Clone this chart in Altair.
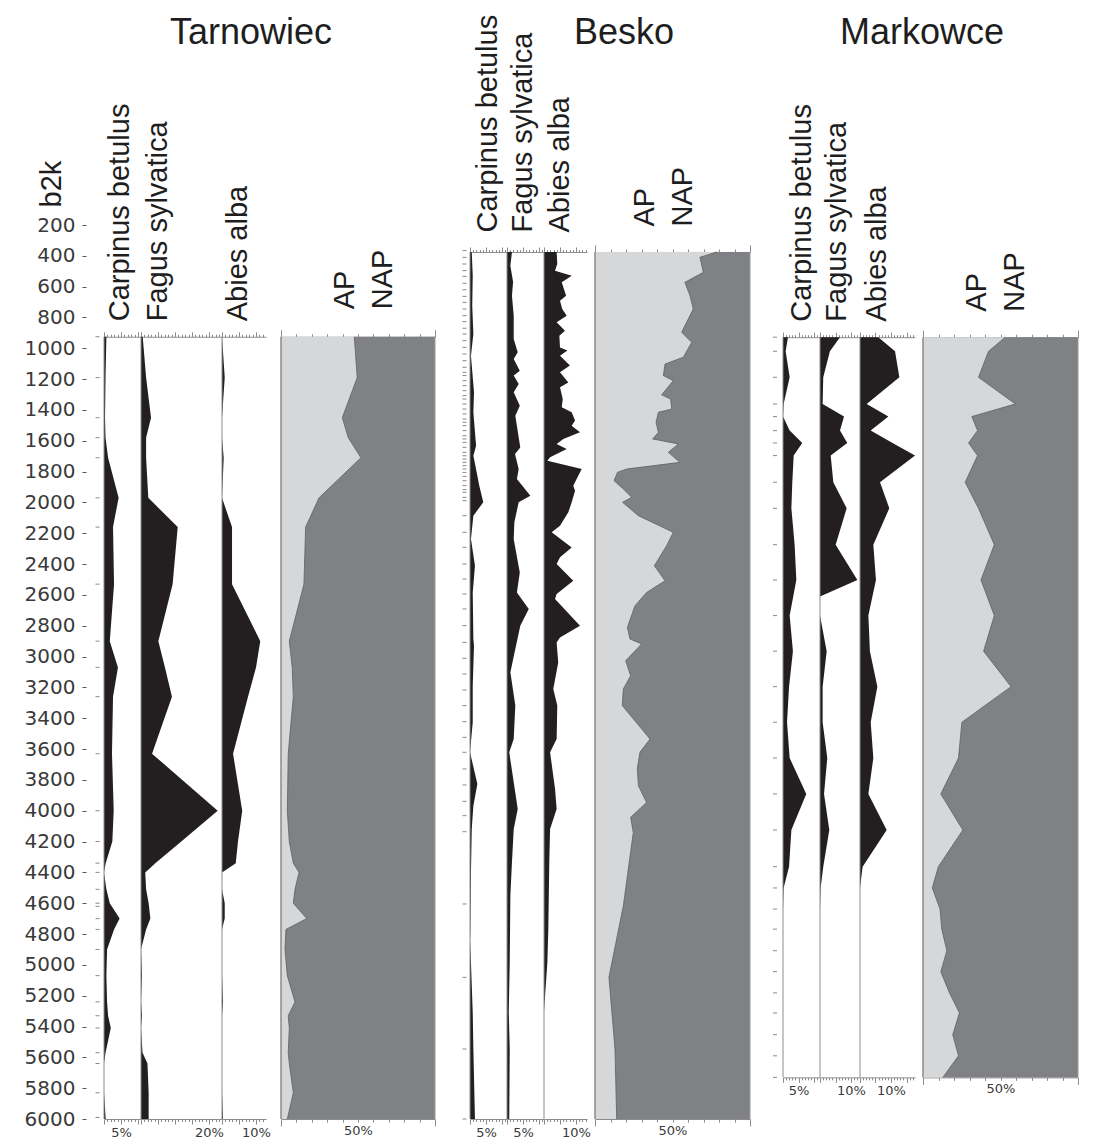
import altair as alt
import pandas as pd

# ---------------- data ----------------
# Tarnowiec
T_depth = [925, 1190, 1450, 1580, 1710, 1970, 2160, 2530, 2900, 3070, 3260, 3630, 4000, 4200, 4340,
           4400, 4510, 4600, 4700, 4770, 4900, 5070, 5240, 5330, 5410, 5570, 5640, 5830, 6000]
T_carpinus = [0.7, 0.45, 0.3, 0.45, 1.2, 4.3, 2.65, 2.95, 1.7, 4.1, 2.65, 2.35, 2.85, 2.45, 0.5,
              0.0, 0.7, 1.7, 4.6, 2.95, 0.9, 0.7, 0.9, 1.2, 2.0, 0.45, 0.0, 0.0, 0.5]
T_fagus = [0.5, 1.5, 2.95, 1.5, 1.5, 2.15, 10.8, 9.3, 5.1, 7.05, 9.1, 3.25, 22.55, 11.85, 4.2,
           1.25, 1.5, 2.25, 2.75, 1.5, 0.0, 0.3, 0.0, 0.3, 0.0, 0.45, 1.9, 2.25, 2.25]
T_abies = [0.0, 0.8, 0.0, 0.0, 0.5, 0.0, 2.95, 2.95, 11.25, 10.0, 7.65, 3.25, 5.95, 4.7, 4.05,
           0.0, 0.0, 0.8, 0.8, 0.0, 0.0, 0.0, 0.3, 0.0, 0.0, 0.0, 0.0, 0.0, 0.3]
T_ap = [47.6, 49.5, 39.8, 43.7, 51.9, 24.7, 16.0, 14.9, 5.4, 7.3, 8.0, 4.7, 4.1, 5.4, 8.0,
        11.7, 9.1, 8.0, 16.7, 3.2, 2.6, 4.1, 9.1, 4.7, 5.4, 4.7, 5.4, 8.0, 4.1]
T_samples = [925, 1190, 1450, 1580, 1710, 1970, 2160, 2530, 2900, 3070, 3260, 3630, 4000, 4200, 4340,
             4400, 4510, 4600, 4620, 4700, 4770, 4900, 5070, 5240, 5330, 5410, 5570, 5640, 5830, 5990]

# Besko
B_carp_depth = [375, 529, 724, 907, 1048, 1285, 1415, 1632, 1697, 1805, 1891, 1999, 2086, 2237, 2411,
                2584, 2886, 2929, 3189, 3427, 3621, 3826, 3967, 4119, 4400, 4800, 4833, 4984, 5306, 5546, 6000]
B_carpinus = [0.55, 0.85, 0.7, 1.05, 0.3, 1.25, 1.05, 1.9, 1.05, 2.1, 2.9, 4.15, 1.05, 0.3, 1.55,
              0.85, 1.05, 1.25, 0.85, 0.85, 0.0, 2.3, 1.05, 0.55, 0.3, 0.1, 0.0, 0.3, 0.85, 1.05, 1.55]
B_fag_depth = [375, 464, 570, 659, 789, 940, 1026, 1069, 1145, 1177, 1232, 1285, 1372, 1437, 1643,
               1686, 1783, 1848, 1956, 1999, 2129, 2238, 2454, 2584, 2691, 2800, 3102, 3318, 3535, 3621,
               3989, 4119, 4335, 4551, 4984, 5306, 5546, 6000]
B_fagus = [1.55, 1.05, 1.9, 1.55, 2.1, 2.1, 3.35, 2.1, 4.0, 2.1, 3.65, 2.1, 4.0, 2.6, 4.15,
           2.5, 3.65, 3.1, 7.3, 3.65, 2.3, 2.1, 4.0, 3.1, 6.8, 4.15, 1.05, 2.6, 2.1, 0.7,
           3.35, 2.1, 1.55, 1.05, 0.85, 0.55, 0.85, 0.7]
B_abi_depth = [375, 453, 496, 529, 572, 659, 691, 745, 789, 831, 886, 918, 994, 1015, 1048,
               1112, 1156, 1221, 1253, 1329, 1383, 1415, 1469, 1502, 1545, 1588, 1620, 1653, 1707, 1729,
               1783, 1826, 1891, 1924, 1999, 2064, 2151, 2194, 2292, 2356, 2400, 2508, 2594, 2626, 2800,
               2876, 2908, 3038, 3210, 3318, 3535, 3621, 3859, 3989, 4119, 4335, 4768, 4984, 5300, 6000]
B_abies = [3.95, 4.15, 3.45, 8.65, 5.55, 6.9, 5.0, 5.7, 7.1, 3.95, 6.55, 4.8, 5.0, 7.3, 5.0,
           8.1, 5.0, 7.6, 5.0, 5.85, 5.55, 8.65, 9.7, 8.65, 11.25, 6.05, 3.95, 7.1, 1.9, 1.05,
           11.8, 10.7, 9.15, 9.7, 8.65, 7.6, 5.0, 2.4, 8.65, 5.0, 3.95, 9.15, 3.95, 3.45, 11.25,
           5.0, 3.95, 4.45, 2.9, 4.15, 3.95, 1.9, 3.45, 3.95, 1.9, 1.65, 1.35, 1.05, 0.0, 0.0]
B_ap_depth = [375, 410, 507, 572, 659, 745, 896, 961, 1058, 1102, 1177, 1210, 1302, 1329, 1394,
              1415, 1480, 1545, 1588, 1620, 1675, 1740, 1783, 1805, 1859, 1913, 1967, 1999, 2086, 2194,
              2281, 2411, 2508, 2584, 2670, 2811, 2886, 2918, 3027, 3124, 3210, 3318, 3535, 3621, 3729,
              3838, 3946, 4043, 4141, 4616, 5081, 5546, 6000]
B_ap = [78.5, 67.7, 69.9, 58.0, 61.3, 63.4, 55.9, 62.4, 57.0, 45.2, 44.1, 50.5, 43.0, 48.8, 49.5,
        40.9, 39.4, 40.9, 37.2, 53.8, 47.3, 54.8, 20.4, 14.5, 12.3, 18.3, 23.7, 17.8, 28.0, 50.5,
        46.2, 38.3, 45.2, 33.3, 25.8, 20.9, 22.6, 30.1, 19.8, 23.0, 18.3, 17.6, 35.5, 29.0, 27.3,
        28.0, 33.3, 23.0, 24.7, 18.3, 9.0, 12.9, 14.0]
B_samples = [366, 410, 453, 496, 533, 578, 620, 663, 702, 745, 788, 827, 870, 907, 950, 994, 1037,
             1080, 1123, 1156, 1177, 1210, 1242, 1275, 1307, 1329, 1361, 1394, 1426, 1459, 1480, 1502,
             1534, 1567, 1588, 1610, 1642, 1675, 1697, 1718, 1740, 1761, 1783, 1805, 1831, 1859, 1891,
             1917, 1934, 1967, 1988, 2086, 2194, 2291, 2399, 2497, 2594, 2691, 2799, 2908, 3011, 3113,
             3217, 3318, 3422, 3524, 3621, 3729, 3833, 3939, 4032, 4136, 4605, 5081, 5546, 6000]

# Markowce
M_depth = [928, 1019, 1188, 1361, 1443, 1534, 1614, 1696, 1869, 2038, 2274, 2503, 2610, 2734, 2965,
           3195, 3426, 3658, 3891, 4125, 4363, 4501, 4638, 4768, 4908, 5044, 5182, 5312, 5453, 5590, 5730]
M_carpinus = [1.6, 0.85, 2.15, 0.2, 0.0, 2.15, 6.2, 3.45, 3.0, 2.7, 3.75, 4.3, 3.3, 2.15, 3.2,
              1.95, 1.3, 2.15, 7.5, 2.7, 1.95, 0.2, 0, 0, 0, 0, 0, 0, 0, 0, 0]
M_fagus = [6.45, 3.2, 1.05, 0.85, 7.75, 6.45, 8.8, 3.45, 4.3, 8.6, 5.05, 12.05, 0.0, 0.0, 2.15,
           0.85, 0.85, 2.35, 1.3, 3.0, 1.05, 0.2, 0, 0, 0, 0, 0, 0, 0, 0, 0]
M_abies = [5.9, 11.3, 12.7, 2.15, 9.15, 3.45, 10.5, 17.75, 6.45, 9.45, 4.3, 5.15, 4.0, 2.7, 3.2,
           5.6, 3.45, 4.3, 2.7, 8.6, 0.85, 0, 0, 0, 0, 0, 0, 0, 0, 0, 0]
M_ap = [53.1, 42.3, 35.8, 59.6, 31.5, 35.2, 29.4, 35.2, 27.2, 35.8, 46.0, 37.4, 41.4, 46.0, 39.1,
        56.8, 25.1, 22.9, 11.5, 25.7, 9.9, 6.0, 11.0, 12.1, 15.4, 11.5, 17.1, 23.5, 19.2, 22.9, 12.8]
M_samples = [928, 1019, 1188, 1361, 1443, 1534, 1614, 1696, 1869, 2038, 2274, 2503, 2734, 2965,
             3195, 3426, 3658, 3891, 4125, 4363, 4501, 4638, 4768, 4908, 5044, 5182, 5312, 5453, 5590, 5730]

SITES = ["Tarnowiec", "Besko", "Markowce"]
TAXA = ["Carpinus betulus", "Fagus sylvatica", "Abies alba"]
Y_TICKS = list(range(200, 6001, 200))

# ---------------- styling ----------------
H = 894
Y0, Y1 = 200, 6000
PXU = H / (Y1 - Y0)
yscale = alt.Scale(domain=[Y0, Y1], reverse=True, nice=False, zero=False)

BLACK = "#231f20"
LIGHT = "#d6d7d9"
DARK = "#808184"
EDGE = "#8c8c8c"
TXT = "#1e1e1e"
NUM = "#3a3a3a"
SANS = "Liberation Sans"
NUMFONT = "DejaVu Sans"


def ydef():
    return alt.Y("depth:Q", scale=yscale, axis=None)


def tsize(test, big, small):
    return {"condition": {"test": test, "value": big}, "value": small}


def taxon_panel(depth, vals, label, width, xmax, lab_val, top, bottom, tx, ty):
    df = pd.DataFrame({"depth": depth, "pct": vals})
    xs = alt.Scale(domain=[0, xmax], nice=False, zero=True)
    tv = list(range(0, int(xmax) + 1))
    ts = tsize("datum.value % 5 === 0", 5, 2.5)
    top_axis = alt.Axis(orient="top", offset=-(top - Y0) * PXU, values=tv, labels=False,
                        tickSize=ts, tickColor=EDGE, domainColor=EDGE, grid=False,
                        title=label, titleAngle=270, titleAlign="left", titleBaseline="alphabetic",
                        titleX=tx, titleY=ty, titleFont=SANS, titleFontSize=29,
                        titleFontWeight="normal", titleColor=TXT)
    bot_axis = alt.Axis(orient="bottom", offset=-(Y1 - bottom) * PXU, values=tv,
                        tickSize=ts, tickColor=EDGE, domainColor=EDGE, grid=False,
                        labelExpr=f"datum.value === {lab_val} ? '{lab_val}%' : ''",
                        labelFont=NUMFONT, labelFontSize=13, labelColor=NUM, labelPadding=2,
                        labelOverlap=False, labelFlush=False, title=None)
    area = alt.Chart(df).mark_area(orient="horizontal", color=BLACK).encode(
        y=ydef(), x=alt.X("pct:Q", scale=xs, axis=top_axis, stack=None))
    base = alt.Chart(df).mark_rule(color=EDGE, strokeWidth=1).encode(
        x=alt.XDatum(0, type="quantitative", scale=xs, axis=bot_axis),
        y=alt.Y("min(depth):Q", scale=yscale, axis=None),
        y2=alt.Y2("max(depth):Q"))
    return alt.layer(area, base).resolve_axis(x="independent").properties(width=width, height=H)


def ap_panel(depth, ap, width, top, bottom, tx, ty, title=None):
    df = pd.DataFrame({"depth": depth, "AP": ap})
    xs = alt.Scale(domain=[0, 100], nice=False)
    tv = list(range(0, 101, 10))
    ts = tsize("datum.value === 0 || datum.value === 100", 7, 3)
    top_axis = alt.Axis(orient="top", offset=-(top - Y0) * PXU, values=tv, labels=False,
                        tickSize=ts, tickColor=EDGE, domainColor=EDGE, grid=False,
                        title=["AP", "NAP"], titleAngle=270, titleAlign="left", titleBaseline="top",
                        titleLineHeight=38, titleX=tx, titleY=ty, titleFont=SANS, titleFontSize=29,
                        titleFontWeight="normal", titleColor=TXT)
    bot_axis = alt.Axis(orient="bottom", offset=-(Y1 - bottom) * PXU, values=tv,
                        tickSize=ts, tickColor=EDGE, domainColor=EDGE, grid=False,
                        labelExpr="datum.value === 50 ? '50%' : ''",
                        labelFont=NUMFONT, labelFontSize=13, labelColor=NUM, labelPadding=2,
                        labelOverlap=False, labelFlush=False, title=None)
    ap_area = alt.Chart(df).mark_area(orient="horizontal", color=LIGHT).encode(
        y=ydef(), x=alt.X("AP:Q", scale=xs, axis=top_axis, stack=None))
    nap_area = alt.Chart(df).transform_calculate(full="100").mark_area(
        orient="horizontal", color=DARK).encode(
        y=ydef(), x=alt.X("AP:Q", scale=xs, axis=None, stack=None), x2="full:Q")
    edge = alt.Chart(df).mark_line(color="#5c5c5f", strokeWidth=0.8).encode(
        y=ydef(), x=alt.X("AP:Q", scale=xs, axis=None), order=alt.Order("depth:Q"))
    left = alt.Chart(df).mark_rule(color="#8a8a8a", strokeWidth=1.5).encode(
        x=alt.XDatum(0, type="quantitative", scale=xs, axis=bot_axis),
        y=alt.Y("min(depth):Q", scale=yscale, axis=None), y2=alt.Y2("max(depth):Q"))
    right = alt.Chart(df).mark_rule(color="#9a9a9a", strokeWidth=1).encode(
        x=alt.XDatum(100, type="quantitative", scale=xs, axis=None),
        y=alt.Y("min(depth):Q", scale=yscale, axis=None), y2=alt.Y2("max(depth):Q"))
    ch = alt.layer(ap_area, nap_area, edge, left, right).resolve_axis(x="independent").properties(
        width=width, height=H)
    if title is not None:
        ch = ch.properties(title=title)
    return ch


def site_title(text, dx):
    return alt.TitleParams(text=text, anchor="middle", frame="group", dx=dx, offset=145,
                           baseline="alphabetic", font=SANS, fontSize=36, fontWeight="normal",
                           color=TXT, orient="top")


def ticks_panel(samples, width, yaxis=None, title=None):
    df = pd.DataFrame({"depth": samples})
    y = alt.Y("depth:Q", scale=yscale, axis=yaxis if yaxis is not None else None)
    ch = alt.Chart(df).mark_tick(color="#555555", size=4, thickness=1, orient="horizontal").encode(
        y=y).properties(width=width, height=H)
    if title is not None:
        ch = ch.properties(title=title)
    return ch


def spacer(w):
    return alt.Chart(pd.DataFrame({"depth": [Y0]})).mark_point(opacity=0).encode(
        y=ydef()).properties(width=w, height=H)


yaxis = alt.Axis(orient="left", offset=5, values=Y_TICKS, format="d", domain=False, tickSize=4,
                 tickColor="#555555", labelFont=NUMFONT, labelFontSize=20, labelColor=NUM,
                 labelPadding=7, labelFlush=False, grid=False,
                 title="b2k", titleAngle=270, titleAlign="left", titleBaseline="alphabetic",
                 titleX=-26, titleY=-18, titleFont=SANS, titleFontSize=29,
                 titleFontWeight="normal", titleColor=TXT)

T_TOP, T_BOT = T_depth[0], T_depth[-1]
B_TOP, B_BOT = 375, 6000
M_TOP, M_BOT = M_depth[0], M_depth[-1]

panels = [
    ticks_panel(T_samples, 13, yaxis=yaxis),
    taxon_panel(T_depth, T_carpinus, TAXA[0], 37, 37 / 3.4, 5, T_TOP, T_BOT, 24, -16),
    taxon_panel(T_depth, T_fagus, TAXA[1], 81, 81 / 3.4, 20, T_TOP, T_BOT, 25, -16),
    taxon_panel(T_depth, T_abies, TAXA[2], 44, 44 / 3.4, 10, T_TOP, T_BOT, 24, -16),
    spacer(15),
    ap_panel(T_depth, T_ap, 154, T_TOP, T_BOT, 49, -28, title=site_title(SITES[0], -107)),
    spacer(24),
    ticks_panel(B_samples, 11, title=site_title(SITES[1], 159.5)),
    taxon_panel(B_carp_depth, B_carpinus, TAXA[0], 37, 37 / 3.2, 5, B_TOP, B_BOT, 26, -20),
    taxon_panel(B_fag_depth, B_fagus, TAXA[1], 37, 37 / 3.2, 5, B_TOP, B_BOT, 24, -20),
    taxon_panel(B_abi_depth, B_abies, TAXA[2], 43, 43 / 3.2, 10, B_TOP, B_BOT, 24, -20),
    spacer(8),
    ap_panel(B_ap_depth, B_ap, 155, B_TOP, B_BOT, 35, -26),
    spacer(17),
    ticks_panel(M_samples, 16, title=site_title(SITES[2], 147)),
    taxon_panel(M_depth, M_carpinus, TAXA[0], 37, 37 / 3.1, 5, M_TOP, M_BOT, 27, -16),
    taxon_panel(M_depth, M_fagus, TAXA[1], 40, 40 / 3.1, 10, M_TOP, M_BOT, 25, -16),
    taxon_panel(M_depth, M_abies, TAXA[2], 55, 55 / 3.1, 10, M_TOP, M_BOT, 25, -16),
    spacer(8),
    ap_panel(M_depth, M_ap, 155, M_TOP, M_BOT, 39, -26),
]

chart = alt.hconcat(*panels, spacing=0, bounds="flush").properties(
    padding={"left": 16, "top": 6, "right": 5, "bottom": 2}
).configure_view(stroke=None).configure_axis(grid=False)

chart.save("out.html", embed_options={"renderer": "svg", "actions": False})
